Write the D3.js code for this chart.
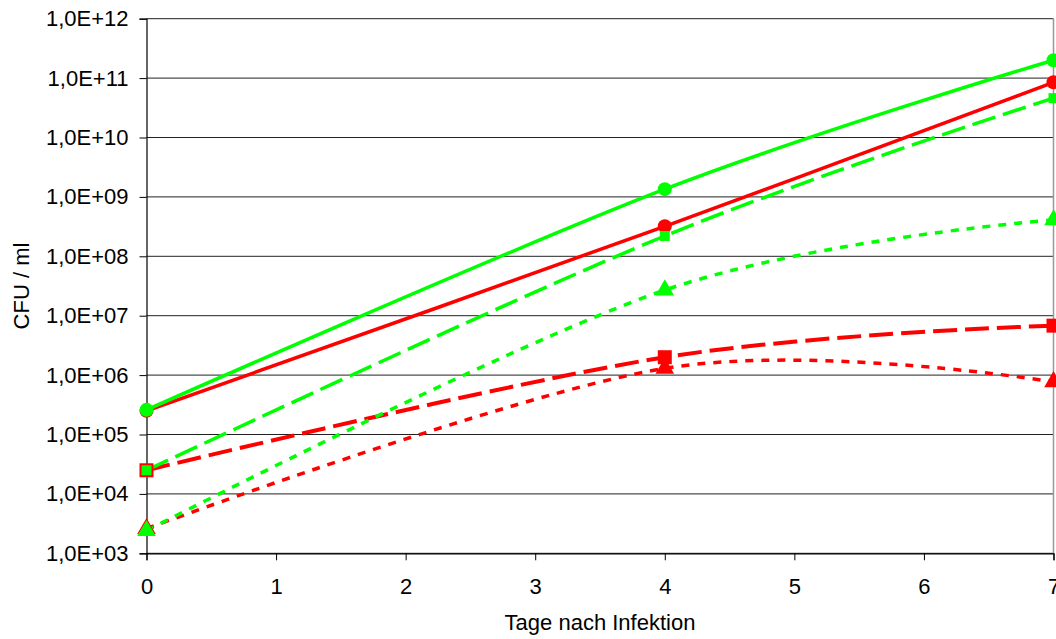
<!DOCTYPE html>
<html><head><meta charset="utf-8">
<script src="https://cdn.jsdelivr.net/npm/d3@7"></script>
<style>body{margin:0;background:#fff}svg{display:block}text{font-family:"Liberation Sans",Arial,sans-serif;fill:#000}</style>
</head><body><svg id="c" width="1056" height="639"></svg>
<script>
const days = [0, 4, 7];
const xTicks = [0, 1, 2, 3, 4, 5, 6, 7];
const yTicks = [1e3, 1e4, 1e5, 1e6, 1e7, 1e8, 1e9, 1e10, 1e11, 1e12];
const redSolid = [2.5e5, 3.2e8, 8.5e10];
const greenDash = [2.5e4, 2.2e8, 4.6e10];
const greenDot = [2.4e3, 2.7e7, 4.1e8];
const redDash = [2.5e4, 2.0e6, 6.8e6];
const redDot = [2.6e3, 1.3e6, 7.7e5];
const greenSolid = [2.6e5, 1.35e9, 2.0e11];
const xTitle = "Tage nach Infektion";
const yTitle = "CFU / ml";

const series = [
  {v: redDot, c: "#ff0000", dash: "8,8", w: 3.5, m: "tri"},
  {v: redDash, c: "#ff0000", dash: "24,8", w: 4, m: "sqBig"},
  {v: redSolid, c: "#ff0000", dash: null, w: 3.5, m: "circ"},
  {v: greenDot, c: "#00ff00", dash: "8,8", w: 3.5, m: "tri"},
  {v: greenDash, c: "#00ff00", dash: "24,8", w: 3.5, m: "sq"},
  {v: greenSolid, c: "#00ff00", dash: null, w: 3.5, m: "circ"}
];

const L = 146.5, R = 1053.5, T = 18.7, B = 553.3;
const FS = "22px";
const svg = d3.select("#c");
const x = d3.scaleLinear().domain([0, 7]).range([L, R]);
const y = d3.scaleLog().domain([1e3, 1e12]).range([B, T]);

svg.append("g").selectAll("line").data(yTicks).join("line")
  .attr("x1", L).attr("x2", R).attr("y1", d => y(d)).attr("y2", d => y(d))
  .attr("stroke", "#222").attr("stroke-width", 1);
svg.append("line").attr("x1", R).attr("x2", R).attr("y1", T).attr("y2", B)
  .attr("stroke", "#999").attr("stroke-width", 1.5);

const fmt = d => "1,0E+" + String(Math.round(Math.log10(d))).padStart(2, "0");
const yAxis = d3.axisLeft(y).tickValues(yTicks).tickFormat(fmt).tickSize(7).tickPadding(11);
const gy = svg.append("g").attr("transform", `translate(${L},0)`).call(yAxis);
gy.select(".domain").attr("stroke", "#000").attr("stroke-width", 1.2);
gy.selectAll("text").style("font-size", FS).style("font-family", "Liberation Sans, Arial");

const xAxis = d3.axisBottom(x).tickValues(xTicks).tickFormat(d3.format("d")).tickSize(7).tickPadding(18);
const gx = svg.append("g").attr("transform", `translate(0,${B})`).call(xAxis);
gx.select(".domain").attr("stroke", "#000").attr("stroke-width", 1.2);
gx.selectAll("text").style("font-size", FS).style("font-family", "Liberation Sans, Arial");

svg.append("text").attr("x", (L + R) / 2).attr("y", 630).attr("text-anchor", "middle")
  .style("font-size", FS).text(xTitle);
svg.append("text").attr("transform", `translate(29,${(T + B) / 2}) rotate(-90)`).attr("text-anchor", "middle")
  .style("font-size", FS).text(yTitle);

const line = d3.line().x((d, i) => x(days[i])).y(d => y(d)).curve(d3.curveCardinal.tension(0));
const g = svg.append("g");
series.forEach(s => {
  g.append("path").attr("d", line(s.v)).attr("fill", "none").attr("stroke", s.c)
    .attr("stroke-width", s.w).attr("stroke-dasharray", s.dash);
});
series.forEach(s => {
  s.v.forEach((d, i) => {
    const cx = x(days[i]), cy = y(d);
    if (s.m === "circ") g.append("circle").attr("cx", cx).attr("cy", cy).attr("r", 7).attr("fill", s.c);
    else if (s.m === "sq") g.append("rect").attr("x", cx - 5).attr("y", cy - 5).attr("width", 10).attr("height", 10).attr("fill", s.c);
    else if (s.m === "sqBig") g.append("rect").attr("x", cx - 7).attr("y", cy - 7).attr("width", 14).attr("height", 14).attr("fill", s.c);
    else g.append("path").attr("d", d3.symbol(d3.symbolTriangle, 150)()).attr("transform", `translate(${cx},${cy})`).attr("fill", s.c);
  });
});
</script></body></html>
